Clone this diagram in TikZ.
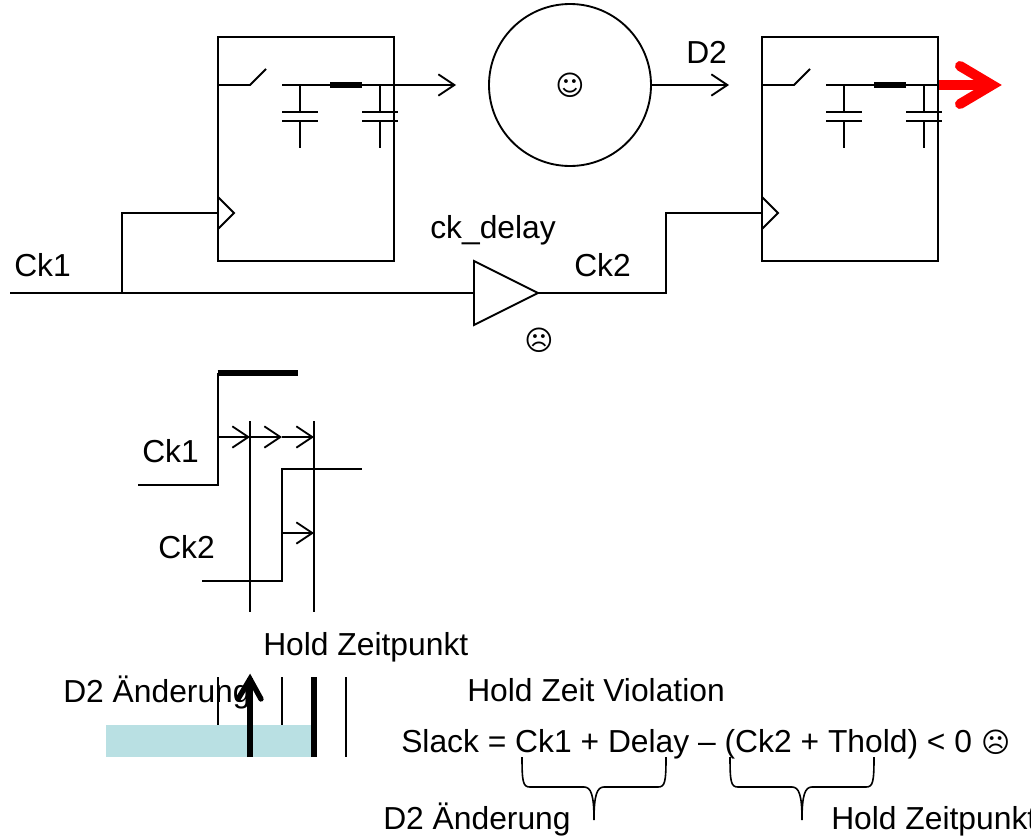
\documentclass[tikz,border=0pt]{standalone}
\usepackage{fontspec}
\setmainfont{Liberation Sans}
\newfontfamily\symfont{DejaVu Sans}
\usetikzlibrary{arrows.meta}
\definecolor{paleteal}{HTML}{B9E0E3}
\newcommand{\frownface}{{\symfont\fontsize{21pt}{24pt}\selectfont ☹}}
\newcommand{\smileface}{{\symfont\fontsize{21pt}{24pt}\selectfont ☺}}
\tikzset{
  wire/.style={draw=black,line width=1.4pt,line join=miter},
  heavy/.style={draw=black,line width=4pt},
  barb/.style={wire,-{Straight Barb[length=12pt,width=16pt,line width=1.4pt]}},
  label/.style={inner sep=0pt,anchor=base west,font=\fontsize{23.85pt}{28pt}\selectfont},
  ffbox/.style={draw=black,line width=1.4pt,fill=none,minimum width=132pt,minimum height=168pt,inner sep=0pt},
}
\begin{document}
\begin{tikzpicture}[x=0.75pt,y=-0.75pt]
\useasboundingbox (0,0) rectangle (1031,835);
% bar behind the hold window
\fill[paleteal] (106,725) rectangle (314,757);
% flip-flops
\node[ffbox] (ff1) at (306,149) {};
\node[ffbox] (ff2) at (850,149) {};
\node[circle,draw=black,line width=1.4pt,minimum size=121.5pt,inner sep=0pt] (logic) at (570,85) {};
\node[inner sep=0pt] (smile) at (570,85) {\smileface};
% flip-flop 1 interior
\coordinate (sw1a) at (ff1.west |- 0,85);
\draw[wire] (sw1a) -- (250,85) -- (266,69);
\coordinate (q1) at (282,85); \coordinate (out1) at (456,85);
\draw[barb] (q1) -- (out1);
\draw[heavy] (330,85) -- (362,85);
\foreach \x in {300,380}{
  \draw[wire] (\x,85) -- (\x,112) (\x-18,112) -- (\x+18,112) (\x-18,121) -- (\x+18,121) (\x,121) -- (\x,148);
}
% flip-flop 2 interior
\coordinate (sw2a) at (ff2.west |- 0,85);
\draw[wire] (sw2a) -- (794,85) -- (810,69);
\coordinate (q2) at (826,85);
\draw[wire] (q2) -- (ff2.east |- 0,85);
\draw[heavy] (874,85) -- (906,85);
\foreach \x in {844,924}{
  \draw[wire] (\x,85) -- (\x,112) (\x-18,112) -- (\x+18,112) (\x-18,121) -- (\x+18,121) (\x,121) -- (\x,148);
}
% red output arrow
\coordinate (redstart) at (ff2.east |- 0,85);
\coordinate (redtip) at (992,85);
\draw[red,line width=7.5pt] (redstart) -- (redtip);
\draw[red,line width=7.5pt,line cap=round,miter limit=10] (960,66) -- (redtip) -- (960,104);
% logic output
\coordinate (d2end) at (729,85);
\draw[barb] (logic.east) -- (d2end);
% clock pins
\coordinate (clk1) at (ff1.west |- 0,213);
\coordinate (clk2) at (ff2.west |- 0,213);
\draw[wire] (218,197) -- (234,213) -- (218,229);
\draw[wire] (762,197) -- (778,213) -- (762,229);
% delay buffer
\coordinate (bufa) at (474,261); \coordinate (bufb) at (474,325); \coordinate (bufc) at (538,293);
\coordinate (bufin) at (474,293);
\draw[wire] (bufa) -- (bufc) -- (bufb) -- cycle;
% clock wiring
\coordinate (ckstart) at (10,293);
\coordinate (ckbranch) at (122,293);
\draw[wire] (ckstart) -- (bufin);
\draw[wire] (ckbranch) |- (clk1);
\draw[wire] (bufc) -- (666,293) -- (666,213) -- (clk2);
% upper labels
\node[label] (lck1) at (14,276) {Ck1};
\node[label] (lckd) at (430,238) {ck\_delay};
\node[label] (lck2) at (574,276) {Ck2};
\node[label] (ld2) at (686,63) {D2};
\node[inner sep=0pt] (frown1) at (539,340) {\frownface};
% timing diagram
\draw[wire] (138,485) -- (218,485) -- (218,373);
\draw[heavy] (217.5,373) -- (298,373);
\draw[wire] (202,581) -- (282,581) -- (282,469) -- (362,469);
\draw[wire] (250,421) -- (250,612);
\draw[wire] (314,421) -- (314,612);
\coordinate (a0) at (218,437); \coordinate (a1) at (250,437); \coordinate (a2) at (282,437); \coordinate (a3) at (314,437);
\coordinate (b0) at (282,533); \coordinate (b1) at (314,533);
\draw[barb] (a0) -- (a1);
\draw[barb] (a1) -- (a2);
\draw[barb] (a2) -- (a3);
\draw[barb] (b0) -- (b1);
\node[label] (tck1) at (142,462) {Ck1};
\node[label] (tck2) at (158,558) {Ck2};
\node[label] (thold) at (263,655) {Hold Zeitpunkt};
% bottom left
\node[label] (tchg) at (63,702) {D2 Änderung};
\draw[wire] (218,677) -- (218,725);
\draw[wire] (282,677) -- (282,725);
\draw[wire] (346,677) -- (346,757);
\draw[black,line width=4pt] (314,677) -- (314,757);
\coordinate (upb) at (250,757); \coordinate (upt) at (250,678);
\draw[black,line width=4pt] (upb) -- (upt);
\draw[black,line width=4pt,line cap=round,miter limit=10] (238,699) -- (250,679) -- (261,699);
% bottom right
\node[label] (tviol) at (467,701) {Hold Zeit Violation};
\node[label] (tslack) at (401,752) {Slack = Ck1 + Delay – (Ck2 + Thold) < 0 \frownface};
\draw[wire,line width=1.2pt] (522,757) .. controls (522,782) and (523,787) .. (530,787) -- (584,787) .. controls (591,787) and (594,795) .. (594,820) .. controls (594,795) and (597,787) .. (604,787) -- (658,787) .. controls (665,787) and (666,782) .. (666,757);
\draw[wire,line width=1.2pt] (730,757) .. controls (730,782) and (731,787) .. (738,787) -- (792,787) .. controls (799,787) and (802,795) .. (802,820) .. controls (802,795) and (805,787) .. (812,787) -- (866,787) .. controls (873,787) and (874,782) .. (874,757);
\node[label] (tb1) at (383,829) {D2 Änderung};
\node[label] (tb2) at (831,829) {Hold Zeitpunkt};
\end{tikzpicture}
\end{document}
